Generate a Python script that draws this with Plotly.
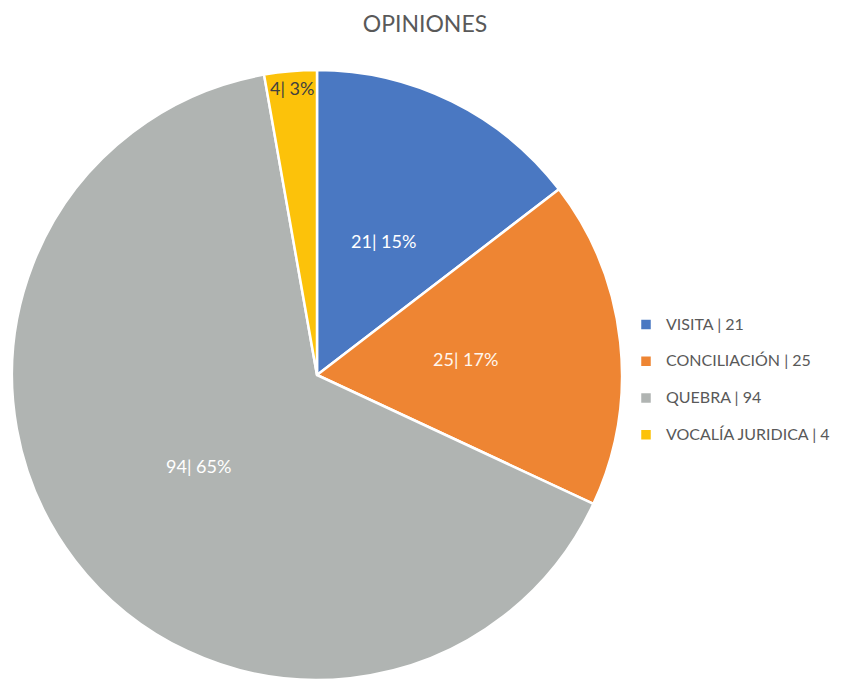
import math
import plotly.graph_objects as go

categories = ["VISITA", "CONCILIACIÓN", "QUEBRA", "VOCALÍA JURIDICA"]
values = [21, 25, 94, 4]
colors = ["#4A78C2", "#EE8533", "#B0B4B2", "#FCC20A"]
text_colors = ["#FFFFFF", "#FFF6EE", "#FFFFFF", "#404040"]

total = sum(values)
slice_text = [f"{v}| {round(v / total * 100)}%" for v in values]
legend_labels = [f'<span style="font-size:16px">{c} | {v}</span><br> ' for c, v in zip(categories, values)]

W, H = 842, 680
# pie geometry (figure pixels)
CX, CY, R = 309, 367, 305
FONT = "Lato, Open Sans, sans-serif"

fig = go.Figure(go.Pie(
    labels=legend_labels,
    values=values,
    textinfo="none",
    sort=False,
    direction="clockwise",
    rotation=0,
    marker=dict(colors=colors, line=dict(color="#FFFFFF", width=2.5)),
    domain=dict(x=[(CX - R) / W, (CX + R) / W], y=[1 - (CY + R) / H, 1 - (CY - R) / H]),
    hovertext=[f"{c}: {v}" for c, v in zip(categories, values)],
    hoverinfo="text+percent",
))

# data labels placed along each slice's mid-angle (Excel "best fit" style)
cum = 0
for v, t, tc in zip(values, slice_text, text_colors):
    frac = v / total
    mid = (cum + frac / 2) * 2 * math.pi
    cum += frac
    rr = R * (0.49 if frac > 0.05 else 0.945)
    px = CX + rr * math.sin(mid)
    py = CY - rr * math.cos(mid)
    fig.add_annotation(x=px / W, y=1 - py / H, xref="paper", yref="paper",
                       text=t, showarrow=False, xanchor="center", yanchor="middle",
                       font=dict(family=FONT, size=18, color=tc))

fig.update_layout(
    width=W, height=H,
    margin=dict(l=0, r=0, t=0, b=0),
    paper_bgcolor="#FFFFFF",
    title=dict(text="OPINIONES", x=417 / W, xanchor="center", y=1 - 16 / H, yanchor="middle",
               font=dict(family=FONT, size=23, color="#595959")),
    legend=dict(x=618 / W, xanchor="left", y=1 - 380.5 / H, yanchor="middle",
                valign="top",
                font=dict(family=FONT, size=13, color="#595959"),
                itemwidth=30),
    showlegend=True,
)

fig.write_html("out.html")
